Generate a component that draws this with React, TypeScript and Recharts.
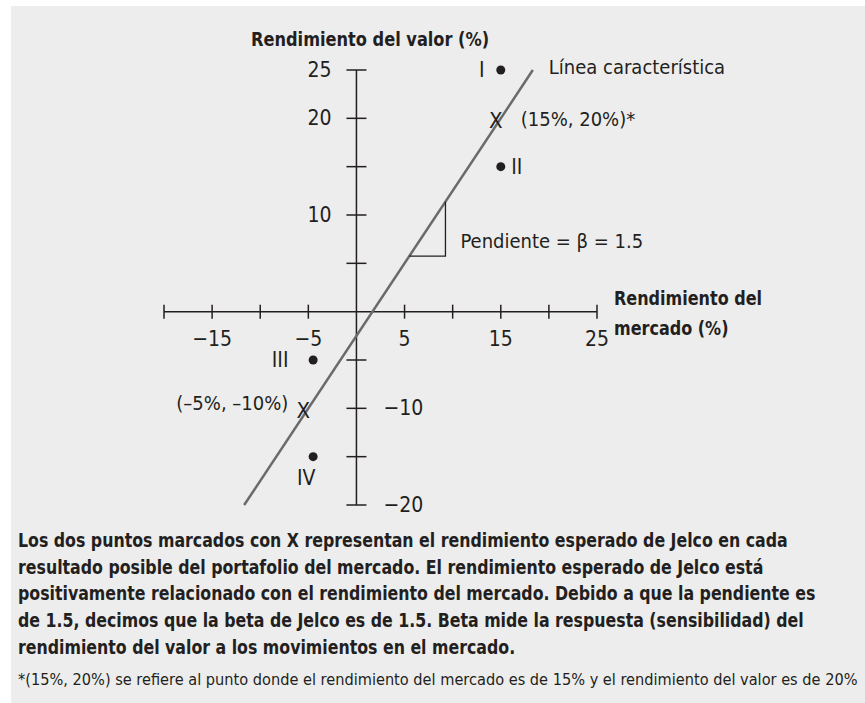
import React from "react";
import {
  ScatterChart,
  Scatter,
  XAxis,
  YAxis,
  ReferenceLine,
  ReferenceDot,
} from "recharts";

// values
const lineMarket = [-11.67, 18.33];
const lineStock = [-20, 25];

const scenarioNames = ["I", "II", "III", "IV"];
const scenarioMarket = [15, 15, -4.5, -4.5];
const scenarioStock = [25, 15, -5, -15];

const expectedMarket = [15, -5];
const expectedStock = [20, -10];
const expectedLabels = ["(15%, 20%)*", "(\u20135%, \u201310%)"];

const slopeMarket = [5.5, 9.25, 9.25];
const slopeStock = [5.75, 5.75, 11.375];

const xTicks = [-20, -15, -10, -5, 5, 10, 15, 20, 25];
const xTickLabels = [-15, -5, 5, 15, 25];
const yTicks = [-20, -15, -10, -5, 5, 10, 15, 20, 25];
const yTickLabels = [25, 20, 10, -10, -20];

const captionLines = [
  "Los dos puntos marcados con X representan el rendimiento esperado de Jelco en cada",
  "resultado posible del portafolio del mercado. El rendimiento esperado de Jelco está",
  "positivamente relacionado con el rendimiento del mercado. Debido a que la pendiente es",
  "de 1.5, decimos que la beta de Jelco es de 1.5. Beta mide la respuesta (sensibilidad) del",
  "rendimiento del valor a los movimientos en el mercado.",
];
const footnote =
  "*(15%, 20%) se refiere al punto donde el rendimiento del mercado es de 15% y el rendimiento del valor es de 20%";

const INK = "#231f20";
const FONT = "'Liberation Sans Narrow', 'DejaVu Sans Condensed', 'Roboto', sans-serif";

const lineData = lineMarket.map((x, i) => ({ x, y: lineStock[i] }));
const scenarioData = scenarioNames.map((name, i) => ({
  name,
  x: scenarioMarket[i],
  y: scenarioStock[i],
}));
const expectedData = expectedMarket.map((x, i) => ({
  x,
  y: expectedStock[i],
  label: expectedLabels[i],
}));
const slopeData = slopeMarket.map((x, i) => ({ x, y: slopeStock[i] }));

const fmt = (v: number) => (v < 0 ? "\u2212" + Math.abs(v) : String(v));

const scenarioLabelPos: Record<string, { dx: number; dy: number }> = {
  I: { dx: -19, dy: 0 },
  II: { dx: 16, dy: 0 },
  III: { dx: -33, dy: 0 },
  IV: { dx: -7, dy: 21 },
};

const ScenarioDot = (props: any) => {
  const { cx, cy, payload } = props;
  const pos = scenarioLabelPos[payload.name];
  return (
    <g>
      <circle cx={cx} cy={cy} r={4.5} fill={INK} />
      <text
        x={cx + pos.dx}
        y={cy + pos.dy}
        textAnchor="middle"
        dominantBaseline="central"
        fontSize={21}
        fontFamily={FONT}
        fill={INK}
      >
        {payload.name}
      </text>
    </g>
  );
};

const ExpectedMark = (props: any) => {
  const { cx, cy, payload } = props;
  const right = payload.x > 0;
  return (
    <g>
      <text
        x={cx - 5}
        y={cy + 2}
        textAnchor="middle"
        dominantBaseline="central"
        fontSize={22}
        fontFamily={FONT}
        fill={INK}
      >
        X
      </text>
      <text
        x={right ? cx + 20 : cx - 20}
        y={right ? cy + 1 : cy - 5}
        textAnchor={right ? "start" : "end"}
        dominantBaseline="central"
        fontSize={20}
        fontFamily={FONT}
        fill={INK}
      >
        {payload.label}
      </text>
    </g>
  );
};

const XTick = (value: number) => (props: any) => {
  const { cx, cy } = props;
  return (
    <g>
      <line x1={cx} y1={cy - 7} x2={cx} y2={cy + 7} stroke={INK} strokeWidth={1.5} />
      {xTickLabels.includes(value) && (
        <text
          x={cx}
          y={cy + 27}
          textAnchor="middle"
          dominantBaseline="central"
          fontSize={21}
          fontFamily={FONT}
          fill={INK}
        >
          {fmt(value)}
        </text>
      )}
    </g>
  );
};

const YTick = (value: number) => (props: any) => {
  const { cx, cy } = props;
  return (
    <g>
      <line x1={cx - 10} y1={cy} x2={cx + 10} y2={cy} stroke={INK} strokeWidth={1.5} />
      {yTickLabels.includes(value) && (
        <text
          x={value > 0 ? cx - 25 : cx + 27}
          y={cy}
          textAnchor={value > 0 ? "end" : "start"}
          dominantBaseline="central"
          fontSize={21}
          fontFamily={FONT}
          fill={INK}
        >
          {fmt(value)}
        </text>
      )}
    </g>
  );
};

const TextAt = (text: string, dx: number, dy: number) => (props: any) => (
  <text
    x={props.cx + dx}
    y={props.cy + dy}
    dominantBaseline="central"
    fontSize={20}
    fontFamily={FONT}
    fill={INK}
  >
    {text}
  </text>
);

const narrow = (s: number): React.CSSProperties => ({
  transform: `scaleX(${s})`,
  transformOrigin: "left top",
});

export default function App() {
  return (
    <div
      style={{
        position: "absolute",
        left: 0,
        top: 0,
        width: 865,
        height: 703,
        background: "#ffffff",
        overflow: "hidden",
        fontFamily: FONT,
        color: INK,
      }}
    >
      <div
        style={{
          position: "absolute",
          left: 11,
          top: 6,
          width: 854,
          height: 697,
          background: "#ededed",
        }}
      />
      <div style={{ position: "absolute", left: 0, top: 0 }}>
        <ScatterChart
          width={865}
          height={703}
          margin={{ top: 70, right: 268, bottom: 198, left: 164 }}
        >
          <XAxis type="number" dataKey="x" domain={[-20, 25]} hide />
          <YAxis type="number" dataKey="y" domain={[-20, 25]} hide />
          <ReferenceLine y={0} stroke={INK} strokeWidth={1.5} />
          <ReferenceLine x={0} stroke={INK} strokeWidth={1.5} />
          {xTicks.map((t) => (
            <ReferenceDot key={"x" + t} x={t} y={0} r={0} shape={XTick(t)} />
          ))}
          {yTicks.map((t) => (
            <ReferenceDot key={"y" + t} x={0} y={t} r={0} shape={YTick(t)} />
          ))}
          <Scatter
            data={lineData}
            line={{ stroke: "#6a6a6c", strokeWidth: 2.5 }}
            shape={() => <g />}
            isAnimationActive={false}
          />
          <Scatter
            data={slopeData}
            line={{ stroke: INK, strokeWidth: 1.3 }}
            shape={() => <g />}
            isAnimationActive={false}
          />
          <Scatter data={scenarioData} shape={ScenarioDot} isAnimationActive={false} />
          <Scatter data={expectedData} shape={ExpectedMark} isAnimationActive={false} />
          <ReferenceDot
            x={lineMarket[1]}
            y={lineStock[1]}
            r={0}
            shape={TextAt("Línea característica", 16, -3)}
          />
          <ReferenceDot
            x={slopeMarket[1]}
            y={slopeStock[1]}
            r={0}
            shape={TextAt("Pendiente = \u03b2 = 1.5", 15, -15)}
          />
        </ScatterChart>
      </div>
      <div
        style={{
          position: "absolute",
          left: 251,
          top: 27,
          fontSize: 20,
          fontWeight: "bold",
          whiteSpace: "nowrap",
          ...narrow(0.9),
        }}
      >
        Rendimiento del valor (%)
      </div>
      <div
        style={{
          position: "absolute",
          left: 614,
          top: 283,
          fontSize: 20,
          fontWeight: "bold",
          lineHeight: "30px",
          whiteSpace: "nowrap",
          ...narrow(0.89),
        }}
      >
        Rendimiento del
        <br />
        mercado (%)
      </div>
      <div
        style={{
          position: "absolute",
          left: 18,
          top: 528,
          fontSize: 19.5,
          fontWeight: "bold",
          lineHeight: "26.7px",
          whiteSpace: "nowrap",
          ...narrow(0.9),
        }}
      >
        {captionLines.map((l) => (
          <div key={l}>{l}</div>
        ))}
      </div>
      <div
        style={{
          position: "absolute",
          left: 18,
          top: 670,
          fontSize: 16.6,
          whiteSpace: "nowrap",
          ...narrow(0.975),
        }}
      >
        {footnote}
      </div>
    </div>
  );
}
